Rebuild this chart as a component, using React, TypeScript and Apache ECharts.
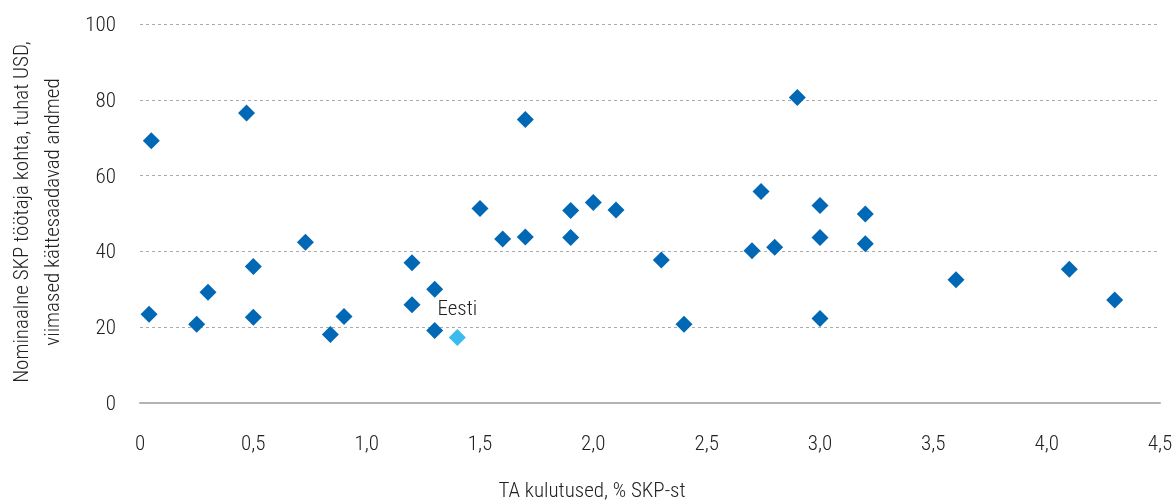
import React, { useEffect, useRef } from "react";
import * as echarts from "echarts";

const rdSpending: number[] = [
  0.05, 0.47, 0.04, 0.25, 0.3, 0.5, 0.5, 0.73, 0.84, 0.9,
  1.2, 1.7, 2.74, 1.5, 1.6, 1.7, 1.9, 1.9, 2.0, 2.1,
  1.2, 1.3, 1.2, 1.3, 2.3, 2.4, 2.7, 2.8,
  2.9, 3.0, 3.0, 3.0, 3.2, 3.2, 3.6, 4.1, 4.3,
];
const gdpPerWorker: number[] = [
  69.2, 76.5, 23.4, 20.8, 29.2, 36.0, 22.6, 42.4, 18.1, 22.8,
  102.0, 74.8, 55.8, 51.3, 43.3, 43.8, 50.8, 43.7, 52.9, 50.9,
  37.0, 30.0, 25.9, 19.1, 37.7, 20.8, 40.2, 41.1,
  80.6, 52.1, 43.7, 22.3, 49.9, 42.0, 32.5, 35.3, 27.2,
];
const estoniaName = "Eesti";
const estoniaX = 1.4;
const estoniaY = 17.3;

const yTitleLines = ["Nominaalne SKP töötaja kohta, tuhat USD,", "viimased kättesaadavad andmed"];
const xTitle = "TA kulutused, % SKP-st";

const FONT = "'Roboto Condensed', Roboto";
const FS = 21;

export default function App() {
  const ref = useRef<HTMLDivElement>(null);
  useEffect(() => {
    if (!ref.current) return;
    const chart = echarts.init(ref.current, null, { renderer: "svg" });
    const fmtX = (v: number) => (v === 0 ? "0" : v.toFixed(1).replace(".", ","));
    chart.setOption({
      animation: false,
      textStyle: { fontFamily: FONT },
      grid: { left: 140, right: 16, top: 24, bottom: 101, containLabel: false },
      xAxis: {
        type: "value",
        min: 0,
        max: 4.5,
        interval: 0.5,
        axisLine: { show: true, lineStyle: { color: "#b3b3b3", width: 2 } },
        axisTick: { show: false },
        splitLine: { show: false },
        axisLabel: {
          formatter: fmtX,
          color: "#222",
          fontSize: FS,
          fontWeight: 300,
          fontFamily: FONT,
          margin: 29,
        },
      },
      yAxis: {
        type: "value",
        min: 0,
        max: 100,
        interval: 20,
        axisLine: { show: false },
        axisTick: { show: false },
        splitLine: { show: true, lineStyle: { color: "#aaaaaa", type: [3, 3], width: 1 } },
        axisLabel: {
          color: "#222",
          fontSize: FS,
          fontWeight: 300,
          fontFamily: FONT,
          margin: 24,
        },
      },
      graphic: [
        {
          type: "text",
          x: 21,
          y: 212,
          rotation: Math.PI / 2,
          style: {
            text: yTitleLines[0],
            fill: "#222",
            font: `300 ${FS}px ${FONT}`,
            align: "center",
            verticalAlign: "middle",
          },
        },
        {
          type: "text",
          x: 52,
          y: 212,
          rotation: Math.PI / 2,
          style: {
            text: yTitleLines[1],
            fill: "#222",
            font: `300 ${FS}px ${FONT}`,
            align: "center",
            verticalAlign: "middle",
          },
        },
        {
          type: "text",
          x: 592,
          y: 490,
          style: {
            text: xTitle,
            fill: "#222",
            font: `300 ${FS}px ${FONT}`,
            align: "center",
            verticalAlign: "middle",
          },
        },
      ],
      series: [
        {
          type: "scatter",
          symbol: "diamond",
          symbolSize: 17,
          itemStyle: { color: "#0068b4", opacity: 1 },
          data: rdSpending.map((x, i) => [x, gdpPerWorker[i]]),
        },
        {
          type: "scatter",
          symbol: "diamond",
          symbolSize: 17,
          itemStyle: { color: "#3bbbee", opacity: 1 },
          data: [[estoniaX, estoniaY]],
          label: {
            show: true,
            position: "top",
            distance: 10,
            formatter: estoniaName,
            color: "#222",
            fontSize: FS,
            fontWeight: 300,
            fontFamily: FONT,
          },
        },
      ],
    });
    return () => chart.dispose();
  }, []);
  return <div ref={ref} style={{ position: "fixed", left: 0, top: 0, width: 1176, height: 504 }} />;
}
